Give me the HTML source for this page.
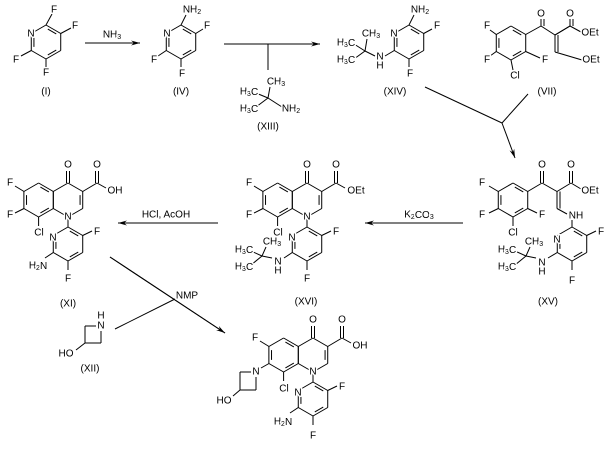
<!DOCTYPE html>
<html><head><meta charset="utf-8"><style>
html,body{margin:0;padding:0;background:#fff;}
svg{display:block;}
text{font-family:"Liberation Sans",Arial,sans-serif;font-size:10px;fill:#000;text-anchor:middle;dominant-baseline:central;paint-order:stroke;stroke:#fff;stroke-width:3px;stroke-linejoin:round;}
tspan.s{font-size:7px;}
</style></head><body>
<svg id="s" width="611" height="452" viewBox="0 0 611 452" xmlns="http://www.w3.org/2000/svg">
<g id="b" stroke="#000" stroke-width="1" fill="none"></g>
<g id="a" fill="#000"></g>
<g id="t">
<!-- (I) -->
<text x="31" y="34">N</text><text x="54" y="10">F</text><text x="75" y="26">F</text><text x="16" y="60">F</text><text x="46" y="73">F</text><text x="46" y="92">(I)</text>
<text x="112" y="35">NH<tspan class="s" dy="2">3</tspan></text>
<!-- (IV) -->
<text x="167" y="34">N</text><text x="192" y="10">NH<tspan class="s" dy="2">2</tspan></text><text x="207" y="26">F</text><text x="154" y="60">F</text><text x="182" y="74">F</text><text x="181" y="92">(IV)</text>
<!-- (XIII) -->
<text x="276" y="82">CH<tspan class="s" dy="2">3</tspan></text><text x="249" y="92">H<tspan class="s" dy="2">3</tspan><tspan dy="-2">C</tspan></text><text x="249" y="109">H<tspan class="s" dy="2">3</tspan><tspan dy="-2">C</tspan></text><text x="291" y="109">NH<tspan class="s" dy="2">2</tspan></text><text x="268" y="127">(XIII)</text>
<!-- (XIV) -->
<text x="394" y="34">N</text><text x="420" y="10">NH<tspan class="s" dy="2">2</tspan></text><text x="437" y="26">F</text><text x="410" y="74">F</text>
<text x="380" y="57">N</text><text x="380" y="66">H</text><text x="371" y="34">CH<tspan class="s" dy="2">3</tspan></text><text x="346" y="43">H<tspan class="s" dy="2">3</tspan><tspan dy="-2">C</tspan></text><text x="346" y="60">H<tspan class="s" dy="2">3</tspan><tspan dy="-2">C</tspan></text><text x="395" y="92">(XIV)</text>
<!-- (VII) -->
<text x="487" y="26">F</text><text x="487" y="60">F</text><text x="515" y="76">Cl</text><text x="545" y="60">F</text><text x="541" y="14">O</text><text x="570" y="14">O</text><text x="590" y="33">OEt</text><text x="591" y="60">OEt</text><text x="547" y="92">(VII)</text>
<!-- (XI) -->
<text x="10" y="183">F</text><text x="10" y="215">F</text><text x="39" y="233">Cl</text><text x="68" y="165">O</text><text x="97" y="165">O</text><text x="115" y="191">OH</text><text x="68" y="217">N</text><text x="53" y="238">N</text><text x="97" y="232">F</text><text x="68" y="279">F</text><text x="38" y="266">H<tspan class="s" dy="2">2</tspan><tspan dy="-2">N</tspan></text><text x="68" y="304">(XI)</text>
<text x="166" y="215">HCl, AcOH</text>
<!-- (XVI) -->
<text x="249" y="183">F</text><text x="249" y="215">F</text><text x="278" y="233">Cl</text><text x="307" y="165">O</text><text x="336" y="165">O</text><text x="356" y="191">OEt</text><text x="307" y="217">N</text><text x="292" y="238">N</text><text x="336" y="232">F</text><text x="307" y="279">F</text>
<text x="278" y="262">N</text><text x="278" y="271">H</text><text x="272" y="242">CH<tspan class="s" dy="2">3</tspan></text><text x="244" y="250">H<tspan class="s" dy="2">3</tspan><tspan dy="-2">C</tspan></text><text x="244" y="267">H<tspan class="s" dy="2">3</tspan><tspan dy="-2">C</tspan></text><text x="306" y="302">(XVI)</text>
<text x="419" y="215">K<tspan class="s" dy="2">2</tspan><tspan dy="-2">CO</tspan><tspan class="s" dy="2">3</tspan></text>
<!-- (XV) -->
<text x="482" y="183">F</text><text x="482" y="215">F</text><text x="513" y="233">Cl</text><text x="542" y="215">F</text><text x="542" y="165">O</text><text x="571" y="165">O</text><text x="590" y="191">OEt</text><text x="576" y="216">NH</text><text x="557" y="240">N</text><text x="601" y="232">F</text><text x="572" y="281">F</text>
<text x="542" y="263">N</text><text x="542" y="272">H</text><text x="534" y="242">CH<tspan class="s" dy="2">3</tspan></text><text x="507" y="250">H<tspan class="s" dy="2">3</tspan><tspan dy="-2">C</tspan></text><text x="507" y="267">H<tspan class="s" dy="2">3</tspan><tspan dy="-2">C</tspan></text><text x="548" y="302">(XV)</text>
<!-- NMP / XII -->
<text x="187" y="296">NMP</text>
<text x="101" y="316">H</text><text x="101" y="326">N</text><text x="66" y="354">HO</text><text x="90" y="369">(XII)</text>
<!-- Final -->
<text x="255" y="338">F</text><text x="313" y="320">O</text><text x="342" y="320">O</text><text x="360" y="346">OH</text><text x="313" y="372">N</text><text x="256" y="372">N</text><text x="224" y="401">HO</text><text x="284" y="389">Cl</text><text x="298" y="393">N</text><text x="342" y="387">F</text><text x="313" y="436">F</text><text x="283" y="422">H<tspan class="s" dy="2">2</tspan><tspan dy="-2">N</tspan></text>
</g>
</svg>
<script>
var b=document.getElementById('b'),A=document.getElementById('a'),NS='http://www.w3.org/2000/svg';
function L(x1,y1,x2,y2){var l=document.createElementNS(NS,'line');l.setAttribute('x1',x1);l.setAttribute('y1',y1);l.setAttribute('x2',x2);l.setAttribute('y2',y2);b.appendChild(l);}
function D(x1,y1,x2,y2,ox,oy){L(x1,y1,x2,y2);L(x1+ox,y1+oy,x2+ox,y2+oy);}
function ring(cx,cy,d){var r=17,v=[];for(var k=0;k<6;k++){var a=(-90+60*k)*Math.PI/180;v.push([cx+r*Math.cos(a),cy+r*Math.sin(a)]);}
for(var k=0;k<6;k++){var p=v[k],q=v[(k+1)%6];L(p[0],p[1],q[0],q[1]);}
(d||[]).forEach(function(k){var p=v[k],q=v[(k+1)%6];var f=function(P){return [P[0]+(cx-P[0])*0.18,P[1]+(cy-P[1])*0.18];};
var P=f(p),Q=f(q);var mx=(P[0]-Q[0])*0.15,my=(P[1]-Q[1])*0.15;L(P[0]-mx,P[1]-my,Q[0]+mx,Q[1]+my);});return v;}
function arrow(x1,y1,x2,y2){L(x1,y1,x2,y2);var dx=x2-x1,dy=y2-y1,n=Math.hypot(dx,dy);dx/=n;dy/=n;var px=-dy,py=dx;
var p=document.createElementNS(NS,'polygon');p.setAttribute('points',x2+','+y2+' '+(x2-9*dx+2.5*px)+','+(y2-9*dy+2.5*py)+' '+(x2-6*dx)+','+(y2-6*dy)+' '+(x2-9*dx-2.5*px)+','+(y2-9*dy-2.5*py));A.appendChild(p);}
// (I)
ring(46,42,[0,2,4]);L(46,25,52,14);L(60.7,33.5,71,28);L(31.3,50.5,21,56);L(46,59,46,67);
arrow(85,43,140,43);
// (IV)
ring(181,42,[0,2,4]);L(181,25,186,15);L(195.7,33.5,203,29);L(166.3,50.5,158,56);L(181,59,181,67);
// T
arrow(224,44,320,44);L(268,44,268,70);
// XIII
L(268,98,270,87);L(268,98,256,93);L(268,98,256,107);L(268,98,282,107);
// XIV
ring(409,42,[0,2,4]);L(409,25,414,15);L(423.7,33.5,432,29);L(409,59,409,67);L(394.3,50.5,385,56);L(375,56,365,51);L(365,51,367,39);L(365,51,354,44);L(365,51,354,59);
// VII
ring(511,43,[0,2,4]);L(496.3,34.5,490,30);L(496.3,51.5,490,56);L(511,60,513,70);L(525.7,51.5,540,58);
L(525.7,34.5,541,26);D(541,26,541,19,3,0);L(541,26,555,35);D(555,35,570,26,0,0);L(555,35,570,26);D(570,26,570,19,3,0);L(570,26,581,32);D(555,35,555,52,3,0);L(555,52,582,60);
// Y arrow
L(425,87,502,123);L(528,94,502,123);arrow(502,123,515,158);
// XI family
function quin(ox,oy,lower){var R=ring(68+ox,200+oy,[1]);var Lr=ring(38.6+ox,200+oy,[0,2,4]);
L(24+ox,191.5+oy,15+ox,186+oy);if(lower)L(24+ox,208.5+oy,15+ox,213+oy);L(38.6+ox,217+oy,38.6+ox,226+oy);
D(66.5+ox,183+oy,66.5+ox,171+oy,3,0);L(82.7+ox,191.5+oy,97+ox,183+oy);D(95.5+ox,183+oy,95.5+ox,171+oy,3,0);L(97+ox,183+oy,106+ox,188+oy);}
function pyr(cx,cy){ring(cx,cy,[0,2,4]);L(cx+14.7,cy-8.5,cx+24,cy-13);L(cx,cy+17,cx,cy+26);}
quin(0,0,true);L(68,217,68,227);pyr(68,244);L(53.3,252.5,45,258);
arrow(218,223,118,223);
quin(239,0,true);L(307,217,307,227);pyr(307,244);L(292.3,252.5,284,258);L(272,258,262,256);L(262,256,266,247);L(262,256,251,251);L(262,256,251,265);
arrow(463,223,365,223);
// XV
ring(513,200,[0,2,4]);L(498.3,191.5,489,186);L(498.3,208.5,489,213);L(513,217,513,226);L(527.7,208.5,537,213);
L(527.7,191.5,542,183);D(540.5,183,540.5,171,3,0);L(542,183,557,191.5);L(557,191.5,571,183);D(569.5,183,569.5,171,3,0);L(571,183,581,189);
D(557,191.5,557,208.5,3,0);L(557,208.5,567,214);L(572,220,572,227);pyr(572,244);L(557.3,252.5,548,258);L(536,258,526,256);L(526,256,530,247);L(526,256,515,251);L(526,256,515,265);
// NMP
L(110,257,225,333);arrow(110,257,225,333);L(115,329,175,299);
// XII
L(85,326,96,326);L(85,326,85,343);L(85,343,101,343);L(101,343,101,331);L(85,343,76,350);
// final
quin(245,155,false);L(313,372,313,382);pyr(313,399);L(298.3,407.5,290,413);
L(269,363.5,261,368);L(251,372,240,372);L(240,372,240,390);L(240,390,256,390);L(256,390,256,377);L(240,390,233,396);
</script>
</body></html>
